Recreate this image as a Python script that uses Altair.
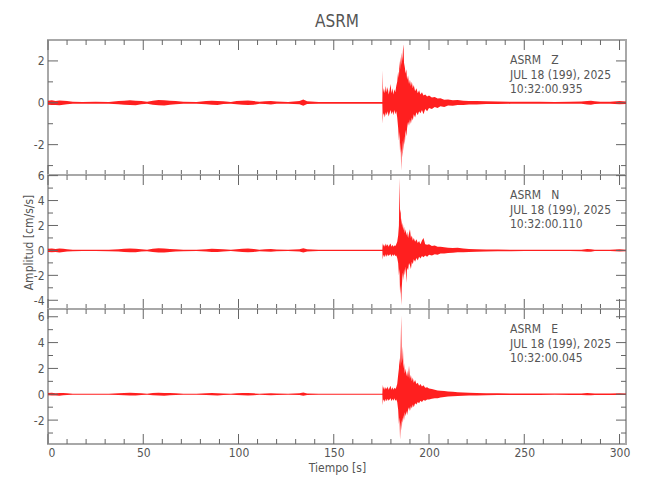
import altair as alt
import pandas as pd

# ---------------- data ----------------
T_Q = [0, 2, 4, 6, 8, 10, 13, 18, 25, 32, 37, 40, 43, 46, 49, 52, 55, 58, 61, 64,
       67, 71, 78, 83, 86, 89, 92, 96, 99, 102, 105, 108, 111, 114, 117, 120, 126,
       132, 134, 136, 142, 150, 158, 166, 172, 175.5]
T_E = [175.7, 175.9, 176.3, 176.8, 177.3, 177.8, 178.3, 178.8, 179.3, 179.8,
       180.3, 180.8, 181.3, 181.8, 182.3, 182.8, 183.3, 183.8, 184.2, 184.5,
       184.8, 185.1, 185.4, 185.7, 186.0, 186.3, 186.6, 186.9, 187.3, 187.7,
       188.1, 188.5, 189.0, 189.5, 190.0, 190.5, 191.0, 191.5, 192.0, 192.7,
       193.4, 194.1, 194.8, 195.5, 196.3, 197.1, 198.0, 199.0, 200.0, 201.5,
       203.0, 204.5, 206.0, 208.0, 210.0, 212.5, 215.0, 218.0, 221.0, 225.0,
       230.0, 236.0, 243.0, 250.0, 258.0, 266.0, 274.0, 280.0, 283.0, 285.0,
       287.0, 290.0, 295.0, 300.0, 303.4]

# Z component: upper / lower envelope
Z_HI = [0.10, 0.12, 0.09, 0.11, 0.10, 0.08, 0.05, 0.04, 0.05, 0.04, 0.08, 0.10, 0.12, 0.10, 0.08,
        0.05, 0.10, 0.13, 0.12, 0.10, 0.08, 0.05, 0.04, 0.08, 0.10, 0.09, 0.07, 0.04, 0.08, 0.10,
        0.11, 0.08, 0.05, 0.07, 0.09, 0.06, 0.04, 0.08, 0.16, 0.07, 0.04, 0.04, 0.04, 0.04, 0.04, 0.04,
        1.55, 0.5, 0.7, 0.45, 0.8, 0.5, 0.75, 0.4, 0.6, 0.9,
        0.45, 0.7, 0.4, 0.65, 0.5, 0.8, 1.0, 1.5, 1.2, 2.0,
        1.6, 2.2, 1.8, 2.4, 2.0, 2.5, 2.8, 1.9, 1.7, 1.4,
        1.6, 1.1, 1.3, 0.9, 1.1, 0.8, 1.0, 0.7, 0.85, 0.55,
        0.7, 0.45, 0.6, 0.4, 0.5, 0.35, 0.4, 0.3, 0.35, 0.25,
        0.28, 0.2, 0.22, 0.15, 0.16, 0.12, 0.13, 0.1, 0.09, 0.08,
        0.07, 0.06, 0.05, 0.05, 0.05, 0.04, 0.05, 0.06, 0.09, 0.1,
        0.07, 0.05, 0.05, 0.08, 0.06]
Z_LO = [-0.09, -0.11, -0.10, -0.12, -0.09, -0.07, -0.05, -0.04, -0.04, -0.05, -0.07, -0.09, -0.11, -0.12, -0.07,
        -0.05, -0.09, -0.12, -0.13, -0.09, -0.07, -0.05, -0.04, -0.07, -0.09, -0.10, -0.06, -0.04, -0.07, -0.09,
        -0.10, -0.09, -0.05, -0.06, -0.08, -0.05, -0.04, -0.07, -0.14, -0.06, -0.04, -0.04, -0.04, -0.04, -0.04, -0.04,
        -1.0, -0.6, -0.5, -0.7, -0.45, -0.6, -0.4, -0.65, -0.5, -0.35,
        -0.55, -0.4, -0.6, -0.35, -0.55, -0.4, -0.7, -1.2, -1.8, -1.4,
        -2.4, -1.9, -3.25, -2.2, -2.6, -1.8, -2.3, -1.6, -2.0, -1.3,
        -1.6, -1.2, -0.9, -1.1, -0.8, -1.0, -0.7, -0.85, -0.55, -0.7,
        -0.45, -0.6, -0.4, -0.5, -0.35, -0.55, -0.3, -0.4, -0.25, -0.3,
        -0.2, -0.25, -0.16, -0.2, -0.13, -0.14, -0.1, -0.1, -0.08, -0.08,
        -0.06, -0.06, -0.05, -0.04, -0.05, -0.04, -0.05, -0.05, -0.08, -0.09,
        -0.06, -0.05, -0.05, -0.07, -0.06]

# N component
N_HI = [0.14, 0.16, 0.12, 0.15, 0.13, 0.10, 0.06, 0.05, 0.05, 0.05, 0.10, 0.14, 0.16, 0.13, 0.10,
        0.06, 0.13, 0.17, 0.15, 0.12, 0.10, 0.06, 0.05, 0.10, 0.14, 0.12, 0.09, 0.05, 0.10, 0.14,
        0.15, 0.11, 0.06, 0.09, 0.12, 0.08, 0.05, 0.10, 0.18, 0.09, 0.05, 0.05, 0.05, 0.05, 0.05, 0.05,
        0.6, 0.35, 0.5, 0.3, 0.55, 0.35, 0.5, 0.3, 0.45, 0.55,
        0.3, 0.45, 0.3, 0.4, 0.35, 0.5, 0.7, 1.2, 2.0, 5.8,
        3.0, 3.3, 2.0, 2.6, 1.8, 2.2, 1.6, 1.9, 1.4, 1.7,
        1.2, 1.5, 1.0, 1.4, 1.7, 1.0, 1.2, 0.8, 1.0, 0.7,
        0.9, 0.6, 0.75, 0.5, 0.8, 1.0, 0.5, 0.45, 0.5, 0.35,
        0.4, 0.3, 0.3, 0.25, 0.22, 0.2, 0.22, 0.15, 0.12, 0.1,
        0.08, 0.07, 0.06, 0.05, 0.05, 0.05, 0.05, 0.06, 0.12, 0.1,
        0.06, 0.05, 0.05, 0.1, 0.06]
N_LO = [-0.12, -0.15, -0.13, -0.16, -0.12, -0.09, -0.06, -0.05, -0.05, -0.06, -0.09, -0.13, -0.15, -0.14, -0.09,
        -0.06, -0.12, -0.16, -0.16, -0.12, -0.09, -0.06, -0.05, -0.09, -0.12, -0.13, -0.08, -0.05, -0.09, -0.12,
        -0.14, -0.12, -0.06, -0.08, -0.11, -0.07, -0.05, -0.09, -0.16, -0.08, -0.05, -0.05, -0.05, -0.05, -0.05, -0.05,
        -0.75, -0.5, -0.35, -0.55, -0.3, -0.5, -0.3, -0.45, -0.35, -0.3,
        -0.5, -0.3, -0.45, -0.3, -0.45, -0.4, -0.6, -1.0, -2.0, -1.5,
        -3.5, -2.8, -4.4, -3.0, -2.2, -1.8, -2.4, -1.5, -2.0, -1.3,
        -2.6, -1.4, -1.6, -1.0, -1.2, -1.5, -0.9, -1.1, -0.7, -0.9,
        -0.6, -0.8, -0.5, -0.65, -0.45, -0.55, -0.4, -0.5, -0.35, -0.4,
        -0.3, -0.35, -0.25, -0.25, -0.2, -0.18, -0.15, -0.15, -0.12, -0.1,
        -0.08, -0.06, -0.06, -0.05, -0.05, -0.04, -0.05, -0.06, -0.1, -0.1,
        -0.05, -0.05, -0.05, -0.08, -0.06]

# E component
E_HI = [0.09, 0.11, 0.08, 0.10, 0.09, 0.07, 0.04, 0.04, 0.04, 0.04, 0.07, 0.09, 0.11, 0.09, 0.07,
        0.04, 0.09, 0.11, 0.10, 0.09, 0.07, 0.04, 0.04, 0.07, 0.09, 0.08, 0.06, 0.04, 0.07, 0.09,
        0.10, 0.07, 0.04, 0.06, 0.08, 0.05, 0.04, 0.07, 0.14, 0.06, 0.04, 0.04, 0.04, 0.04, 0.04, 0.04,
        0.75, 0.4, 0.6, 0.35, 0.55, 0.4, 0.6, 0.35, 0.5, 0.65,
        0.35, 0.55, 0.35, 0.5, 0.4, 0.55, 0.8, 1.5, 2.0, 2.8,
        2.2, 3.5, 6.1, 2.4, 2.8, 3.7, 2.0, 2.4, 1.6, 2.0,
        1.4, 1.8, 1.3, 2.2, 1.2, 1.5, 1.0, 1.3, 0.9, 1.1,
        0.8, 0.9, 0.65, 0.8, 0.6, 0.7, 0.5, 0.55, 0.45, 0.4,
        0.35, 0.3, 0.28, 0.25, 0.22, 0.2, 0.16, 0.13, 0.12, 0.1,
        0.08, 0.07, 0.06, 0.05, 0.05, 0.05, 0.05, 0.06, 0.09, 0.08,
        0.06, 0.05, 0.05, 0.07, 0.05]
E_LO = [-0.08, -0.10, -0.09, -0.11, -0.08, -0.06, -0.04, -0.04, -0.04, -0.04, -0.06, -0.08, -0.10, -0.10, -0.06,
        -0.04, -0.08, -0.10, -0.11, -0.08, -0.06, -0.04, -0.04, -0.06, -0.08, -0.09, -0.05, -0.04, -0.06, -0.08,
        -0.09, -0.08, -0.04, -0.05, -0.07, -0.05, -0.04, -0.06, -0.12, -0.05, -0.04, -0.04, -0.04, -0.04, -0.04, -0.04,
        -0.85, -0.5, -0.4, -0.6, -0.35, -0.55, -0.35, -0.5, -0.4, -0.3,
        -0.55, -0.35, -0.5, -0.3, -0.5, -0.4, -0.6, -1.2, -2.3, -1.8,
        -3.5, -2.5, -2.0, -2.8, -1.8, -2.2, -1.6, -2.0, -1.4, -1.7,
        -1.3, -1.6, -1.2, -1.0, -1.3, -0.9, -1.1, -0.8, -1.0, -0.7,
        -0.8, -0.6, -0.7, -0.5, -0.6, -0.45, -0.5, -0.4, -0.4, -0.35,
        -0.3, -0.3, -0.25, -0.22, -0.18, -0.16, -0.14, -0.12, -0.1, -0.09,
        -0.08, -0.06, -0.05, -0.05, -0.05, -0.04, -0.05, -0.05, -0.08, -0.07,
        -0.05, -0.05, -0.05, -0.06, -0.05]

X_MAJOR = [0, 50, 100, 150, 200, 250, 300]
X_MINOR = [10, 20, 30, 40, 60, 70, 80, 90, 110, 120, 130, 140, 160, 170, 180, 190,
           210, 220, 230, 240, 260, 270, 280, 290]

PANELS = [
    dict(hi=Z_HI, lo=Z_LO, dom=[-3.45, 3.0], major=[-2, 0, 2], minor=[-3, -1, 1],
         label="ASRM\u00a0\u00a0\u00a0Z\nJUL 18 (199), 2025\n10:32:00.935", h=135),
    dict(hi=N_HI, lo=N_LO, dom=[-4.7, 6.05], major=[-4, -2, 0, 2, 4, 6], minor=[-3, -1, 1, 3, 5],
         label="ASRM\u00a0\u00a0\u00a0N\nJUL 18 (199), 2025\n10:32:00.110", h=134),
    dict(hi=E_HI, lo=E_LO, dom=[-3.85, 6.6], major=[-2, 0, 2, 4, 6], minor=[-3, -1, 1, 3, 5],
         label="ASRM\u00a0\u00a0\u00a0E\nJUL 18 (199), 2025\n10:32:00.045", h=135),
]

# ---------------- style ----------------
FONT = "'DejaVu Sans Condensed', 'Liberation Sans Narrow', 'Roboto Condensed', 'DejaVu Sans', sans-serif"
TXT = "#555555"
TICK = "#666666"
W = 578
T_ALL = T_Q + T_E

xscale = alt.Scale(domain=[0, 303.4], nice=False, zero=False)


def panel(p, idx):
    h = p["h"]
    yscale = alt.Scale(domain=p["dom"], nice=False, zero=False)
    yaxis = alt.Axis(values=p["major"], ticks=False, domain=False, grid=False,
                     labelPadding=4, labelFont=FONT, labelFontSize=12, labelColor=TXT,
                     labelExpr="'' + datum.value",
                     title="Amplitud [cm/s/s]" if idx == 1 else None,
                     titleFont=FONT, titleFontSize=12, titleFontWeight="normal",
                     titleColor=TXT, titlePadding=-2)
    if idx == 2:
        xaxis = alt.Axis(values=X_MAJOR, ticks=False, domain=False, grid=False,
                         labelPadding=3, labelFont=FONT, labelFontSize=12, labelColor=TXT,
                         title="Tiempo [s]", titleFont=FONT, titleFontSize=12,
                         titleFontWeight="normal", titleColor=TXT, titlePadding=4)
    else:
        xaxis = None

    df = pd.DataFrame({"t": T_ALL, "hi": p["hi"], "lo": p["lo"]})
    area = alt.Chart(df).mark_area(color="#ff0000", opacity=0.88, line=False).encode(
        x=alt.X("t:Q", scale=xscale, axis=xaxis),
        y=alt.Y("hi:Q", scale=yscale, axis=yaxis),
        y2="lo:Q",
    )

    layers = [area]
    for vals, ln in [(X_MAJOR, 10), (X_MINOR, 5)]:
        d = pd.DataFrame({"v": vals})
        for y1, y2 in [(0, ln), (h, h - ln)]:
            layers.append(alt.Chart(d).mark_rule(color=TICK, strokeWidth=1).encode(
                x=alt.X("v:Q", scale=xscale, axis=xaxis),
                y=alt.value(y1), y2=alt.value(y2)))
    for vals, ln in [(p["major"], 10), (p["minor"], 5)]:
        d = pd.DataFrame({"v": vals})
        for x1, x2 in [(0, ln), (W, W - ln)]:
            layers.append(alt.Chart(d).mark_rule(color=TICK, strokeWidth=1).encode(
                y=alt.Y("v:Q", scale=yscale, axis=yaxis),
                x=alt.value(x1), x2=alt.value(x2)))

    txt = alt.Chart(pd.DataFrame({"s": [p["label"]]})).mark_text(
        align="left", baseline="top", font=FONT, fontSize=12, color=TXT,
        lineBreak="\n", lineHeight=14.5).encode(
        text="s:N", x=alt.value(462), y=alt.value(15))
    layers.append(txt)

    ch = alt.layer(*layers).properties(width=W, height=h)
    if idx == 0:
        ch = ch.properties(title=alt.TitleParams("ASRM", font=FONT, fontSize=17,
                                                 fontWeight="normal", color=TXT,
                                                 anchor="middle", offset=9))
    return ch


chart = alt.vconcat(*[panel(p, i) for i, p in enumerate(PANELS)], spacing=0,
                    bounds="flush").configure_view(
    stroke="#a8a8a8", strokeWidth=2
).properties(padding={"left": 13, "top": 3, "right": 5, "bottom": 5}, background="white")

chart.save("out.html", embed_options={"renderer": "svg", "actions": False})
